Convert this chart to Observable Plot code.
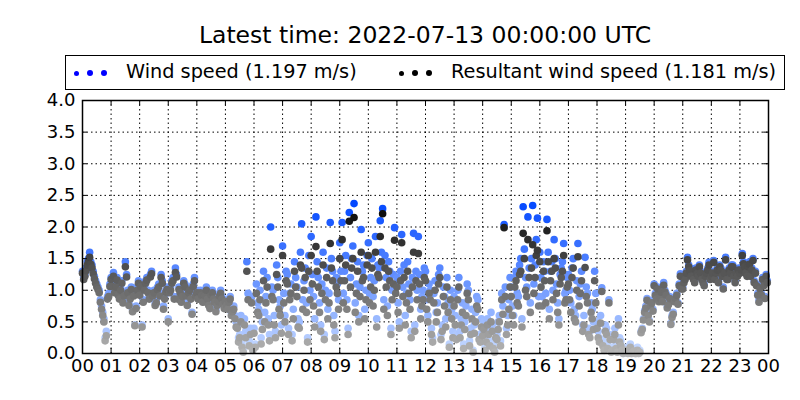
<!DOCTYPE html>
<html>
<head>
<meta charset="utf-8">
<script src="https://cdn.jsdelivr.net/npm/d3@7"></script>
<script src="https://cdn.jsdelivr.net/npm/@observablehq/plot@0.6"></script>
<style>
  body { margin: 0; background: #fff; font-family: "DejaVu Sans", sans-serif; color: #000; }
  #wrap { position: relative; width: 800px; height: 400px; overflow: hidden; }
  #title { position: absolute; top: 21px; left: 82px; width: 686px; text-align: center; font-size: 23.5px; white-space: nowrap; }
  #legend { position: absolute; left: 65px; top: 55px; width: 720px; height: 35px; border: 1px solid #000; box-sizing: border-box; font-size: 19.3px; }
  #legend span { position: absolute; top: 4px; white-space: nowrap; }
  #legend i { position: absolute; border-radius: 50%; }
  #ylabel { position: absolute; left: 30px; top: 227px; transform: translate(-50%, -50%) rotate(-90deg); font-size: 19px; white-space: nowrap; }
  #chart { position: absolute; left: 0; top: 92px; }
</style>
</head>
<body>
<div id="wrap">
  <div id="title">Latest time: 2022-07-13 00:00:00 UTC</div>
  <div id="legend"></div>
  <div id="ylabel">Wind speed (m/s)</div>
  <div id="chart"></div>
</div>
<script>
// 5-minute samples, one row per hour (00..23), at :00, :05, ...
const windSpeed = [
  [1.30,1.25,1.45,1.60,1.40,1.22,1.10,1.00,0.75,0.55,0.35,0.95],
  [1.20,1.28,1.10,0.95,1.05,0.85,1.45,1.00,0.90,0.70,0.45,1.05],
  [0.95,0.45,1.05,1.20,0.90,1.30,1.00,0.85,1.10,1.25,0.75,1.00],
  [0.55,1.05,1.20,1.35,0.90,1.00,0.95,1.10,0.80,1.05,0.65,1.20],
  [1.00,0.90,0.95,0.85,1.05,0.80,0.95,0.90,0.70,0.85,1.00,0.80],
  [0.85,0.75,0.90,0.70,0.60,0.45,0.30,0.15,0.55,1.45,0.20,0.90],
  [0.40,1.10,0.70,0.25,1.30,0.90,0.55,2.00,1.00,0.35,1.20,0.75],
  [1.70,0.60,1.25,0.95,0.30,1.45,1.05,0.50,2.05,1.15,0.80,1.55],
  [1.85,0.90,2.16,1.20,0.45,1.60,1.00,0.70,2.07,1.30,0.35,1.10],
  [1.75,2.07,1.30,0.85,2.23,1.50,2.37,1.10,0.60,1.96,1.40,1.00],
  [1.75,1.20,0.90,1.85,1.40,2.10,2.29,1.55,0.75,1.30,1.00,1.99],
  [1.20,0.50,1.88,1.40,0.95,1.10,0.35,1.90,1.30,1.85,0.70,1.00],
  [1.30,0.60,1.00,0.25,1.15,0.80,1.35,0.45,0.90,1.20,0.15,0.70],
  [0.90,0.30,1.20,0.55,0.15,0.75,1.00,0.40,0.05,0.65,0.85,0.25],
  [0.35,0.10,0.55,0.20,0.45,0.05,0.30,0.60,0.95,2.04,0.40,0.85],
  [1.05,0.60,1.30,0.90,1.50,2.32,1.20,2.16,0.80,2.34,1.40,2.14],
  [1.60,0.90,1.30,2.12,0.70,1.45,1.80,1.10,0.55,1.35,1.74,1.00],
  [1.25,0.80,1.50,0.60,1.74,1.10,0.45,1.52,0.95,0.35,0.70,1.30],
  [0.50,0.25,1.04,0.10,0.40,0.85,0.05,0.30,0.15,0.55,0.20,0.00],
  [0.10,0.00,0.15,0.05,0.00,0.10,0.05,0.40,0.68,0.87,0.52,0.84],
  [1.10,0.90,0.85,1.00,1.12,0.95,0.80,0.48,0.65,0.90,0.80,1.26],
  [1.05,1.20,1.52,1.35,1.25,1.15,1.30,1.40,1.20,1.10,1.30,1.44],
  [1.25,1.47,1.30,1.15,1.35,1.05,1.52,1.20,1.30,1.40,1.15,1.25],
  [1.30,1.58,1.40,1.25,1.45,1.35,1.15,1.10,0.85,0.95,1.10,1.25]
];
const resultant = [
  [1.27,1.22,1.40,1.52,1.35,1.18,1.05,0.96,0.70,0.50,0.28,0.90],
  [1.17,1.22,1.05,0.92,1.00,0.80,1.37,0.96,0.86,0.66,0.44,1.00],
  [0.92,0.42,1.00,1.16,0.86,1.26,0.96,0.80,1.05,1.20,0.70,0.97],
  [0.50,1.00,1.15,1.28,0.86,0.96,0.90,1.05,0.76,1.00,0.62,1.15],
  [0.96,0.86,0.92,0.82,1.00,0.76,0.92,0.86,0.66,0.82,0.95,0.78],
  [0.82,0.70,0.86,0.66,0.55,0.40,0.25,0.10,0.45,1.30,0.12,0.80],
  [0.32,0.95,0.60,0.15,1.15,0.80,0.45,1.65,0.85,0.25,1.05,0.60],
  [1.55,0.50,1.10,0.85,0.20,1.30,0.90,0.40,1.35,1.00,0.65,1.30],
  [1.55,0.75,1.69,1.05,0.35,1.40,0.85,0.55,1.74,1.15,0.25,0.95],
  [1.50,1.80,1.15,0.70,2.09,1.35,2.15,0.95,0.50,1.60,1.20,0.85],
  [1.55,1.05,0.75,1.60,1.25,1.85,2.21,1.35,0.60,1.15,0.85,1.79],
  [1.05,0.40,1.75,1.20,0.80,0.95,0.25,1.60,1.15,1.58,0.55,0.85],
  [1.15,0.50,0.85,0.18,1.00,0.65,1.20,0.35,0.75,1.05,0.10,0.55],
  [0.75,0.22,1.05,0.45,0.08,0.60,0.85,0.30,0.02,0.50,0.70,0.18],
  [0.28,0.05,0.45,0.12,0.35,0.02,0.22,0.50,0.85,1.99,0.30,0.70],
  [0.90,0.45,1.15,0.75,1.30,1.90,1.00,1.80,0.65,1.72,1.20,1.63],
  [1.45,0.75,1.15,1.94,0.55,1.30,1.50,0.95,0.45,1.20,1.55,0.85],
  [1.10,0.65,1.35,0.50,1.53,0.95,0.35,1.36,0.80,0.25,0.55,1.15],
  [0.40,0.18,0.98,0.05,0.30,0.80,0.02,0.22,0.08,0.45,0.12,0.00],
  [0.05,0.00,0.10,0.02,0.00,0.05,0.02,0.38,0.65,0.84,0.50,0.80],
  [1.07,0.86,0.82,0.97,1.08,0.92,0.77,0.46,0.62,0.87,0.78,1.22],
  [1.02,1.17,1.48,1.31,1.22,1.12,1.26,1.37,1.17,1.07,1.27,1.40],
  [1.22,1.44,1.27,1.12,1.31,1.02,1.48,1.17,1.27,1.37,1.12,1.22],
  [1.27,1.55,1.37,1.22,1.41,1.32,1.12,1.07,0.81,0.92,1.07,1.22]
];
// samples in between, at :02.5, :07.5, ...
const windSpeedB = [
  [1.20,1.35,1.50,1.45,1.30,1.15,1.05,0.85,0.65,0.25,0.90,1.10],
  [1.10,1.00,1.20,0.90,1.15,0.95,1.25,0.80,1.05,0.95,0.75,1.15],
  [1.10,0.85,1.15,1.00,1.25,0.95,0.80,1.05,0.95,1.15,0.90,1.05],
  [1.00,1.15,0.90,1.25,1.05,0.85,1.15,0.95,1.00,0.90,1.10,0.95],
  [0.90,1.00,0.85,0.95,0.90,0.75,1.00,0.85,0.80,0.95,0.90,0.75],
  [0.80,0.85,0.65,0.75,0.50,0.25,0.60,0.05,0.35,0.95,0.40,0.10],
  [0.15,0.80,1.00,0.50,0.65,1.20,0.30,1.05,0.60,1.40,0.85,0.45],
  [0.95,1.30,0.40,1.10,0.70,1.20,0.55,1.60,0.85,1.35,0.25,1.00],
  [1.25,0.55,1.45,0.80,1.10,0.30,1.35,0.95,1.50,0.60,1.20,0.85],
  [1.30,0.95,1.55,0.40,1.20,1.70,0.80,1.45,1.05,1.30,0.70,1.55],
  [0.95,1.50,1.15,0.55,1.35,1.60,0.85,1.20,1.45,0.40,1.25,1.10],
  [0.80,1.30,1.05,0.60,1.45,0.85,1.20,0.45,1.00,1.25,0.90,1.35],
  [0.85,1.10,0.40,0.95,0.65,1.25,0.30,1.05,0.55,0.80,1.00,0.35],
  [0.60,1.00,0.35,0.80,0.50,1.10,0.20,0.70,0.45,0.90,0.30,0.55],
  [0.50,0.25,0.40,0.65,0.15,0.35,0.50,0.20,0.75,1.05,0.60,1.20],
  [0.75,1.20,0.95,1.40,0.55,1.65,1.05,1.35,1.50,1.10,1.80,0.90],
  [1.20,1.45,0.95,1.60,1.30,1.00,1.50,0.80,1.25,1.45,0.95,1.20],
  [1.00,1.35,0.70,1.15,0.90,1.30,0.60,1.05,0.40,0.80,0.50,0.95],
  [0.35,0.60,0.20,0.45,0.15,0.30,0.10,0.40,0.05,0.25,0.10,0.05],
  [0.05,0.10,0.00,0.08,0.02,0.00,0.35,0.55,0.75,0.62,0.78,0.70],
  [0.95,1.05,0.90,0.85,1.00,0.75,0.90,0.60,0.85,0.95,1.10,1.05],
  [1.15,1.30,1.40,1.25,1.20,1.35,1.25,1.30,1.15,1.25,1.35,1.20],
  [1.30,1.20,1.35,1.40,1.25,1.30,1.20,1.35,1.40,1.25,1.30,1.35],
  [1.35,1.45,1.30,1.40,1.25,1.50,1.30,0.95,1.05,1.20,0.90,1.15]
];
const resultantB = [
  [1.17,1.31,1.45,1.41,1.26,1.11,1.01,0.81,0.60,0.20,0.86,1.06],
  [1.06,0.96,1.16,0.86,1.11,0.91,1.21,0.76,1.01,0.91,0.71,1.11],
  [1.06,0.81,1.11,0.96,1.21,0.91,0.76,1.01,0.91,1.11,0.86,1.01],
  [0.96,1.11,0.86,1.21,1.01,0.81,1.11,0.91,0.96,0.86,1.06,0.91],
  [0.86,0.96,0.81,0.91,0.86,0.71,0.96,0.81,0.76,0.91,0.86,0.71],
  [0.76,0.81,0.60,0.70,0.42,0.18,0.50,0.02,0.25,0.85,0.30,0.05],
  [0.10,0.65,0.85,0.38,0.50,1.05,0.20,0.90,0.45,1.25,0.70,0.32],
  [0.80,1.15,0.30,0.95,0.55,1.05,0.42,1.40,0.70,1.20,0.18,0.85],
  [1.10,0.42,1.30,0.65,0.95,0.22,1.20,0.80,1.35,0.45,1.05,0.70],
  [1.15,0.80,1.40,0.30,1.05,1.50,0.65,1.30,0.90,1.15,0.55,1.40],
  [0.80,1.35,1.00,0.42,1.20,1.45,0.70,1.05,1.30,0.30,1.10,0.95],
  [0.65,1.15,0.90,0.45,1.30,0.70,1.05,0.35,0.85,1.10,0.75,1.20],
  [0.70,0.95,0.30,0.80,0.50,1.10,0.22,0.90,0.42,0.65,0.85,0.25],
  [0.45,0.85,0.25,0.65,0.38,0.95,0.12,0.55,0.32,0.75,0.22,0.42],
  [0.38,0.18,0.30,0.50,0.08,0.25,0.38,0.12,0.62,0.90,0.45,1.05],
  [0.60,1.05,0.80,1.25,0.42,1.50,0.90,1.20,1.35,0.95,1.55,0.75],
  [1.05,1.30,0.80,1.45,1.15,0.85,1.35,0.65,1.10,1.30,0.80,1.05],
  [0.85,1.20,0.55,1.00,0.75,1.15,0.45,0.90,0.30,0.65,0.38,0.80],
  [0.25,0.48,0.12,0.35,0.08,0.22,0.05,0.30,0.02,0.18,0.05,0.02],
  [0.02,0.05,0.00,0.04,0.00,0.00,0.33,0.53,0.72,0.60,0.75,0.67],
  [0.92,1.02,0.87,0.82,0.97,0.72,0.87,0.57,0.82,0.92,1.07,1.02],
  [1.12,1.27,1.37,1.22,1.17,1.32,1.22,1.27,1.12,1.22,1.32,1.17],
  [1.27,1.17,1.32,1.37,1.22,1.27,1.17,1.32,1.37,1.22,1.27,1.32],
  [1.32,1.42,1.27,1.37,1.22,1.47,1.27,0.92,1.02,1.17,0.87,1.12]
];
const hourTicks = d3.range(0, 25);
const speedTicks = [0, 0.5, 1, 1.5, 2, 2.5, 3, 3.5, 4];
const legendItems = [
  {label: "Wind speed (1.197 m/s)", color: "#0000ff", x: 10, tx: 60},
  {label: "Resultant wind speed (1.181 m/s)", color: "#000000", x: 335, tx: 385}
];

const toPoints = (ws, rs, offset) => ws.flatMap((row, h) =>
  row.map((w, i) => ({t: h + (i + offset) / 12, w, r: rs[h][i]})));
const points = [...toPoints(windSpeed, resultant, 0), ...toPoints(windSpeedB, resultantB, 0.5)]
  .sort((a, b) => a.t - b.t);

// shade by value, like the colormapped scatter
const blue = v => d3.interpolateRgb("#c8dbff", "#0046ff")(Math.min(1, v / 2.4));
const grey = v => d3.interpolateRgb("#b6b6b6", "#000000")(Math.min(1, v / 2.4));

const legend = d3.select("#legend");
legendItems.forEach(d => {
  [[0, 2.5], [14, 3], [28, 3]].forEach(([dx, r]) => {
    legend.append("i")
      .style("left", (d.x + dx - r) + "px").style("top", (17 - r) + "px")
      .style("width", 2 * r + "px").style("height", 2 * r + "px")
      .style("background", d.color);
  });
  legend.append("span").style("left", d.tx + "px").text(d.label);
});

const chart = Plot.plot({
  width: 800,
  height: 308,
  marginLeft: 82,
  marginRight: 32,
  marginTop: 8,
  marginBottom: 47,
  style: {fontFamily: "DejaVu Sans, sans-serif", fontSize: "18px", color: "#000", background: "#fff", overflow: "visible"},
  x: {domain: [0, 24], ticks: hourTicks, tickFormat: d => String(d % 24).padStart(2, "0"), label: null, tickSize: 0, tickPadding: 6},
  y: {domain: [0, 4], ticks: speedTicks, tickFormat: d => d.toFixed(1), label: null, tickSize: 0, tickPadding: 7},
  color: {type: "identity"},
  marks: [
    Plot.ruleX(hourTicks.slice(1, -1), {stroke: "#000", strokeDasharray: "1.5,3"}),
    Plot.ruleY(speedTicks.slice(1, -1), {stroke: "#000", strokeDasharray: "1.5,3"}),
    Plot.dot(points, {x: "t", y: "w", r: 3.8, fill: d => blue(d.w)}),
    Plot.dot(points, {x: "t", y: "r", r: 3.8, fill: d => grey(d.r)}),
    Plot.ruleX(hourTicks, {y1: 0, y2: 0.08, stroke: "#000"}),
    Plot.ruleX(hourTicks, {y1: 3.92, y2: 4, stroke: "#000"}),
    Plot.ruleY(speedTicks, {x1: 0, x2: 0.17, stroke: "#000"}),
    Plot.ruleY(speedTicks, {x1: 23.83, x2: 24, stroke: "#000"}),
    Plot.frame({stroke: "#000", strokeWidth: 1.5})
  ]
});
d3.select("#chart").append(() => chart);
</script>
</body>
</html>
